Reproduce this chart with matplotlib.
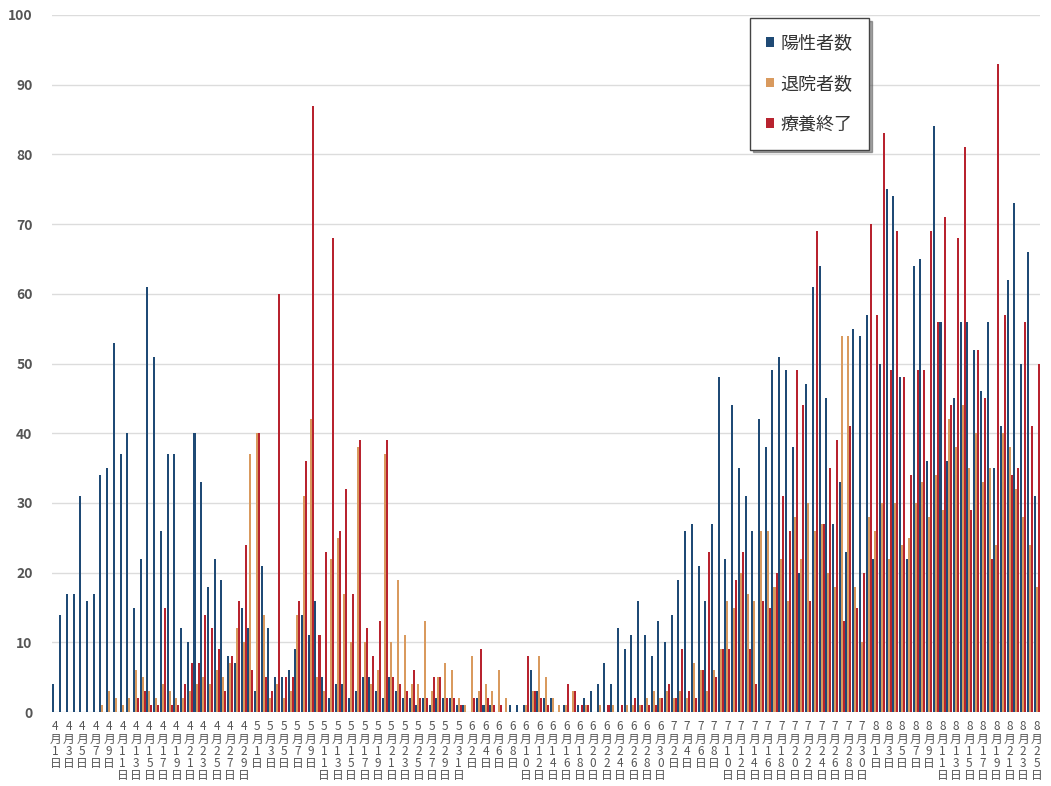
import matplotlib
matplotlib.use('Agg')
import matplotlib.pyplot as plt
import numpy as np
import pandas as pd

plt.rcParams['font.family'] = ['Noto Sans CJK JP', 'DejaVu Sans']

# one category per day, 2020-04-01 .. 2020-08-25
dates = pd.date_range('2020-04-01', periods=147, freq='D')
labels = [f'{d.month}月{d.day}日' for d in dates]

positive = [4, 14, 17, 17, 31, 16, 17, 34, 35, 53, 37, 40, 15, 22, 61, 51, 26, 37, 37, 12,
            10, 40, 33, 18, 22, 19, 8, 7, 15, 12, 3, 21, 12, 5, 5, 6, 9, 14, 11, 16,
            5, 2, 4, 4, 2, 3, 5, 5, 3, 2, 5, 3, 2, 2, 1, 2, 1, 2, 2, 2,
            1, 1, 0, 2, 1, 1, 0, 0, 1, 1, 1, 6, 3, 2, 2, 0, 1, 0, 1, 2,
            3, 4, 7, 4, 12, 9, 11, 16, 11, 8, 13, 10, 14, 19, 26, 27, 21, 16, 27, 48,
            22, 44, 35, 31, 26, 42, 38, 49, 51, 49, 38, 20, 47, 61, 64, 45, 27, 33, 23, 55,
            54, 57, 22, 50, 75, 74, 48, 22, 64, 65, 36, 84, 56, 36, 45, 56, 56, 52, 46, 56,
            35, 41, 62, 73, 50, 66, 31]
discharged = [0, 0, 0, 0, 0, 0, 0, 1, 3, 2, 1, 2, 6, 5, 3, 2, 4, 3, 2, 2,
              3, 4, 5, 4, 6, 5, 7, 12, 10, 37, 40, 14, 2, 4, 2, 3, 14, 31, 42, 5,
              3, 22, 25, 17, 10, 38, 10, 4, 6, 37, 10, 19, 11, 4, 4, 13, 3, 5, 7, 6,
              2, 1, 8, 3, 4, 3, 6, 2, 0, 0, 1, 3, 8, 5, 2, 1, 1, 3, 0, 1,
              0, 1, 0, 1, 0, 1, 1, 1, 2, 3, 2, 3, 2, 3, 2, 7, 6, 3, 6, 9,
              16, 15, 20, 17, 16, 26, 26, 18, 22, 16, 28, 22, 30, 26, 27, 20, 18, 54, 54, 18,
              10, 28, 26, 30, 22, 30, 24, 25, 30, 33, 28, 34, 29, 42, 38, 44, 35, 40, 33, 35,
              24, 40, 38, 32, 28, 24, 18]
finished = [0, 0, 0, 0, 0, 0, 0, 0, 0, 0, 0, 0, 2, 3, 1, 1, 15, 1, 1, 4,
            7, 7, 14, 12, 9, 3, 8, 16, 24, 6, 40, 5, 3, 60, 5, 5, 16, 36, 87, 11,
            23, 68, 26, 32, 17, 39, 12, 8, 13, 39, 5, 4, 3, 6, 2, 2, 5, 5, 2, 2,
            1, 0, 2, 9, 2, 1, 1, 0, 0, 0, 8, 3, 2, 1, 0, 0, 4, 3, 1, 1,
            0, 0, 1, 0, 1, 0, 2, 1, 1, 1, 2, 4, 2, 9, 3, 2, 6, 23, 5, 9,
            9, 19, 23, 9, 4, 16, 15, 20, 31, 26, 49, 44, 16, 69, 27, 35, 39, 13, 41, 15,
            20, 70, 57, 83, 49, 69, 48, 34, 49, 49, 69, 56, 71, 44, 68, 81, 29, 52, 45, 22,
            93, 57, 34, 35, 56, 41, 50]

series = [('陽性者数', positive, '#1f4a75'),
          ('退院者数', discharged, '#d99a5e'),
          ('療養終了', finished, '#b8232f')]

fig = plt.figure(figsize=(10.51, 7.86), dpi=100)
ax = fig.add_axes([0.0495, 0.094, 0.94, 0.887])

x = np.arange(len(labels))
w = 0.3
for k, (name, vals, col) in enumerate(series):
    ax.bar(x + (k - 1) * w, vals, width=w, color=col, label=name, zorder=2)

ax.set_xlim(-0.5, len(labels) - 0.5)
ax.set_ylim(0, 100)
ax.set_yticks(np.arange(0, 101, 10))
ax.yaxis.grid(True, color='#dcdcdc', lw=1.0, zorder=0)
for s in ax.spines.values():
    s.set_visible(False)
ax.tick_params(axis='y', length=0, pad=14, labelsize=10, labelcolor='#555555')
for t in ax.get_yticklabels():
    t.set_fontweight('bold')

ticks = x[::2]
ax.set_xticks(ticks)
ax.set_xticklabels(['\n'.join(labels[i]) for i in ticks], fontsize=8.5,
                   color='#555555', linespacing=0.92, va='top')
ax.tick_params(axis='x', length=0, pad=6)

leg = ax.legend(loc='upper left', bbox_to_anchor=(750 / 1051, 1 - 18 / 786),
                bbox_transform=fig.transFigure, fontsize=13, frameon=True,
                fancybox=False, shadow=True, edgecolor='#444444',
                handlelength=0.45, handleheight=0.45, labelspacing=1.25,
                borderpad=0.9, handletextpad=0.35, borderaxespad=0)
for t in leg.get_texts():
    t.set_color('#333333')

fig.savefig('out.png', dpi=100)
